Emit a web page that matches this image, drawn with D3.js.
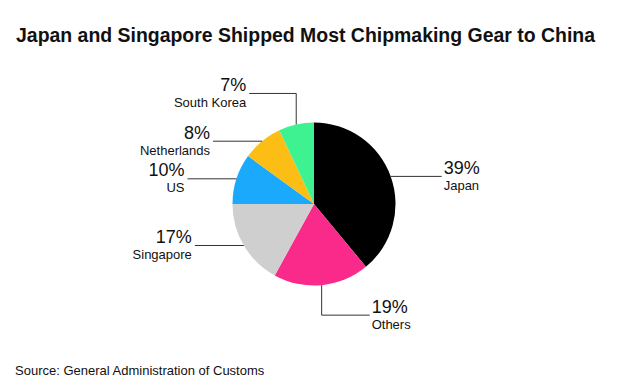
<!DOCTYPE html>
<html>
<head>
<meta charset="utf-8">
<script src="https://cdn.jsdelivr.net/npm/d3@7"></script>
<style>
  body { margin: 0; background: #fff; }
  text { font-family: "Liberation Sans", Arial, Helvetica, sans-serif; fill: #111; }
</style>
</head>
<body>
<svg id="chart" width="630" height="389"></svg>
<script>
const countries = ['Japan', 'Others', 'Singapore', 'US', 'Netherlands', 'South Korea']
const shares = [39, 19, 17, 10, 8, 7]
const colors = ['#000000', '#fa2a8b', '#cfcfcf', '#1ba9fb', '#fcbd14', '#3ff291']
// how each leader line leaves the pie: 'h' straight out, 'up'/'down' elbow
const leader = ['h', 'down', 'h', 'h', 'h', 'up']

const svg = d3.select('#chart')
const cx = 314, cy = 204, r = 81.5

svg.append('text')
  .attr('x', 16)
  .attr('y', 42)
  .attr('font-size', 19.5)
  .attr('font-weight', 'bold')
  .attr('textLength', 579)
  .attr('lengthAdjust', 'spacingAndGlyphs')
  .text('Japan and Singapore Shipped Most Chipmaking Gear to China')

svg.append('text')
  .attr('x', 15)
  .attr('y', 375)
  .attr('font-size', 13)
  .text('Source: General Administration of Customs')

const pie = d3.pie().sort(null).value(d => d)
const arcs = pie(shares)
const arc = d3.arc().innerRadius(0).outerRadius(r)

const g = svg.append('g').attr('transform', `translate(${cx},${cy})`)

g.selectAll('path.slice')
  .data(arcs)
  .enter()
  .append('path')
  .attr('class', 'slice')
  .attr('d', arc)
  .attr('fill', (d, i) => colors[i])

const labels = g.selectAll('g.label')
  .data(arcs)
  .enter()
  .append('g')
  .attr('class', 'label')

labels.each(function (d, i) {
  const a = (d.startAngle + d.endAngle) / 2
  const x0 = r * Math.sin(a)
  const y0 = -r * Math.cos(a)
  const right = x0 > 0
  let pts, tx, ty
  if (leader[i] === 'h') {
    const x1 = x0 + (right ? 51 : -49)
    pts = [[x0, y0], [x1, y0]]
    tx = x1 + (right ? 2 : -3)
    ty = y0
  } else {
    const y1 = y0 + (leader[i] === 'down' ? 30 : -31)
    const x1 = x0 + (leader[i] === 'down' ? 48 : -47)
    pts = [[x0, y0], [x0, y1], [x1, y1]]
    tx = x1 + (leader[i] === 'down' ? 2 : -3)
    ty = y1
  }
  const sel = d3.select(this)
  sel.append('path')
    .attr('d', d3.line()(pts))
    .attr('fill', 'none')
    .attr('stroke', '#333')
    .attr('stroke-width', 1)
  const anchor = tx > 0 ? 'start' : 'end'
  sel.append('text')
    .attr('x', tx)
    .attr('y', ty - 2.5)
    .attr('font-size', 18)
    .attr('text-anchor', anchor)
    .text(`${shares[i]}%`)
  sel.append('text')
    .attr('x', tx)
    .attr('y', ty + 13.5)
    .attr('font-size', 13)
    .attr('text-anchor', anchor)
    .text(countries[i])
})
</script>
</body>
</html>
